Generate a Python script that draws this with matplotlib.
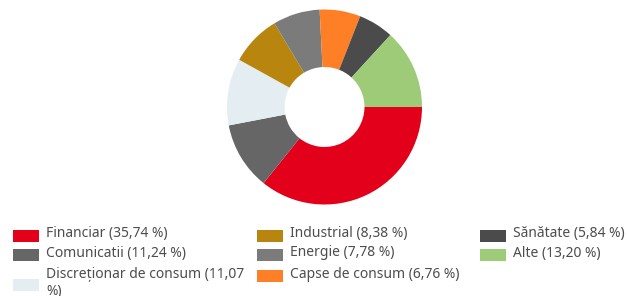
import matplotlib
matplotlib.use('Agg')
import matplotlib.pyplot as plt
from matplotlib.patches import Rectangle

# --- data ---
labels = ['Financiar', 'Comunicatii', 'Discreționar de consum', 'Industrial',
          'Energie', 'Capse de consum', 'Sănătate', 'Alte']
values = [35.74, 11.24, 11.07, 8.38, 7.78, 6.76, 5.84, 13.20]
colors = ['#E2001A', '#666666', '#E4EEF2', '#B8860F',
          '#7B7B7B', '#FF7F27', '#4B4B4B', '#9DCB77']
legend_texts = ['Financiar (35,74 %)', 'Comunicatii (11,24 %)', 'Discreționar de consum (11,07\n%)',
                'Industrial (8,38 %)', 'Energie (7,78 %)', 'Capse de consum (6,76 %)',
                'Sănătate (5,84 %)', 'Alte (13,20 %)']

W, H = 627, 296
fig = plt.figure(figsize=(W / 100, H / 100), dpi=100)
plt.rcParams['font.family'] = ['Noto Sans', 'DejaVu Sans']

# donut: centre ~ (324,107), outer radius ~97 px
r_px = 97.5
ax = fig.add_axes([(324.5 - r_px) / W, 1 - (107 + r_px) / H, 2 * r_px / W, 2 * r_px / H])
ax.pie(values, colors=colors, startangle=0, counterclock=False, radius=1.0,
       wedgeprops=dict(width=0.59, linewidth=0))
ax.set_aspect('equal')
ax.set_xlim(-1, 1)
ax.set_ylim(-1, 1)
ax.axis('off')

# legend, three columns laid out by hand (pixel coords)
col_x = [13, 257, 480]
row_y = [235, 254, 275]
slots = [(0, 0), (0, 1), (0, 2), (1, 0), (1, 1), (1, 2), (2, 0), (2, 1)]
for (c, r), txt, col in zip(slots, legend_texts, colors):
    x0 = col_x[c]
    yc = row_y[r]
    lines = txt.split('\n')
    patch_c = yc + 9 * (len(lines) - 1) + 1
    fig.add_artist(Rectangle((x0 / W, 1 - (patch_c + 6) / H), 26 / W, 12 / H,
                             transform=fig.transFigure, facecolor=col, edgecolor='none'))
    for k, line in enumerate(lines):
        fig.text((x0 + 33) / W, 1 - (yc - 1 + 18 * k) / H, line, fontsize=10,
                 color='#4D4D4D', va='center', ha='left')

fig.savefig('out.png', dpi=100)
